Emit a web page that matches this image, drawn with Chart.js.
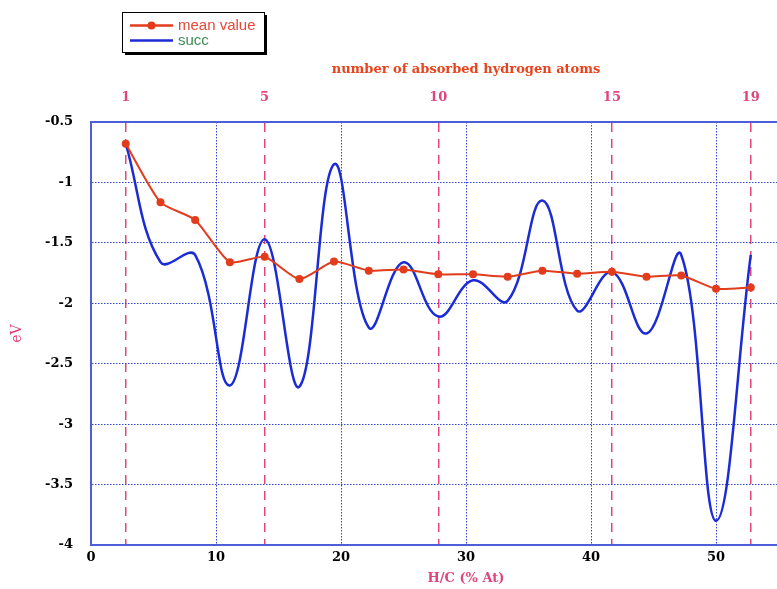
<!DOCTYPE html>
<html>
<head>
<meta charset="utf-8">
<script src="https://cdn.jsdelivr.net/npm/chart.js@4.4.1/dist/chart.umd.min.js"></script>
<style>
  html, body { margin: 0; padding: 0; background: #fff; overflow: hidden; }
  #wrap { position: relative; width: 870px; height: 589px; }
</style>
</head>
<body>
<div id="wrap"><canvas id="chart"></canvas></div>
<script>
// number of absorbed hydrogen atoms and the matching H/C ratio (% At)
const atoms = [1, 2, 3, 4, 5, 6, 7, 8, 9, 10, 11, 12, 13, 14, 15, 16, 17, 18, 19]
const hcPercent = [2.78, 5.56, 8.33, 11.11, 13.89, 16.67, 19.44, 22.22, 25.0, 27.78,
  30.56, 33.33, 36.11, 38.89, 41.67, 44.44, 47.22, 50.0, 52.78]

// energies in eV
const meanValue = [-0.68, -1.165, -1.31, -1.66, -1.615, -1.8, -1.655, -1.73, -1.72, -1.76,
  -1.76, -1.78, -1.73, -1.755, -1.74, -1.78, -1.77, -1.88, -1.87]
const succ = [-0.68, -1.66, -1.6, -2.68, -1.47, -2.69, -0.85, -2.2, -1.66, -2.11,
  -1.81, -1.98, -1.15, -2.06, -1.74, -2.25, -1.6, -3.8, -1.6]

// atoms marked on the top axis with a dashed line
const markedAtoms = [1, 5, 10, 15, 19]

const BLUE_AXIS = "#4d5ed8"
const BLUE_GRID = "#3344cc"
const PINK = "#e0457d"
const tickFont = { family: "DejaVu Serif", size: 13, weight: "bold" }

const toPoints = (ys) => hcPercent.map((x, i) => ({ x, y: ys[i] }))

// framed legend with a drop shadow, top left
const legendBox = {
  id: "legendBox",
  afterDraw(chart) {
    const ctx = chart.ctx
    const x = 122, y = 12, w = 142, h = 40
    const textColors = ["#e6473a", "#3c8a58"]
    ctx.save()
    ctx.fillStyle = "#000"
    ctx.fillRect(x + 3, y + 3, w, h)
    ctx.fillStyle = "#fff"
    ctx.fillRect(x, y, w, h)
    ctx.strokeStyle = "#000"
    ctx.lineWidth = 1
    ctx.strokeRect(x + 0.5, y + 0.5, w, h)
    chart.data.datasets.forEach((ds, i) => {
      const ly = y + 13.5 + i * 15
      ctx.strokeStyle = ds.borderColor
      ctx.lineWidth = 2.5
      ctx.beginPath()
      ctx.moveTo(130, ly)
      ctx.lineTo(173, ly)
      ctx.stroke()
      if (ds.pointRadius) {
        ctx.fillStyle = ds.borderColor
        ctx.beginPath()
        ctx.arc(151.5, ly, 4, 0, Math.PI * 2)
        ctx.fill()
      }
      ctx.fillStyle = textColors[i]
      ctx.font = "15px 'Liberation Sans'"
      ctx.textBaseline = "middle"
      ctx.fillText(ds.label, 178, ly)
    })
    ctx.restore()
  }
}

new Chart(document.getElementById("chart"), {
  type: "line",
  data: {
    datasets: [
      {
        label: "mean value",
        data: toPoints(meanValue),
        borderColor: "#e23c1c",
        backgroundColor: "#e23c1c",
        borderWidth: 2,
        pointRadius: 4,
        pointBorderWidth: 0,
        tension: 0.2,
        order: 0
      },
      {
        label: "succ",
        data: toPoints(succ),
        borderColor: "#1c2cd4",
        backgroundColor: "#1c2cd4",
        borderWidth: 2.5,
        pointRadius: 0,
        tension: 0.4,
        order: 1
      }
    ]
  },
  options: {
    responsive: true,
    maintainAspectRatio: false,
    animation: false,
    layout: { padding: { left: 0, top: 0, right: 29, bottom: 0 } },
    plugins: { legend: { display: false }, tooltip: { enabled: false } },
    scales: {
      x: {
        type: "linear",
        position: "bottom",
        min: 0,
        max: 60,
        afterFit: (s) => { s.height = 44 },
        ticks: { stepSize: 10, color: "#000", font: tickFont, padding: 5 },
        grid: { color: BLUE_GRID, lineWidth: 1, drawTicks: false },
        border: { display: true, color: BLUE_AXIS, width: 2, dash: [1.5, 1.5] },
        title: {
          display: true,
          text: "H/C (% At)",
          color: PINK,
          font: { family: "DejaVu Serif", size: 13, weight: "bold" },
          padding: { top: 0, bottom: 3 }
        }
      },
      x2: {
        type: "linear",
        position: "top",
        min: 0,
        max: 60,
        afterFit: (s) => { s.height = 122 },
        afterBuildTicks: (s) => {
          s.ticks = markedAtoms.map((n) => ({ value: hcPercent[atoms.indexOf(n)] }))
        },
        ticks: {
          color: PINK,
          font: tickFont,
          padding: 17,
          callback: (v, i) => String(markedAtoms[i])
        },
        grid: { color: PINK, lineWidth: 1.5, drawTicks: false },
        border: { display: true, color: BLUE_AXIS, width: 2, dash: [9, 7] },
        title: {
          display: true,
          text: "number of absorbed hydrogen atoms",
          color: "#e8431c",
          font: { family: "DejaVu Serif", size: 13, weight: "bold" },
          padding: { top: 62, bottom: 0 }
        }
      },
      y: {
        type: "linear",
        min: -4,
        max: -0.5,
        afterFit: (s) => { s.width = 91 },
        ticks: {
          stepSize: 0.5,
          color: "#000",
          font: tickFont,
          padding: 18,
          callback: (v) => String(v)
        },
        grid: { color: BLUE_GRID, lineWidth: 1, drawTicks: false },
        border: { display: true, color: BLUE_AXIS, width: 2, dash: [1.5, 1.5] },
        title: {
          display: true,
          text: "eV",
          color: PINK,
          font: { family: "DejaVu Serif", size: 14 },
          padding: { top: 9, bottom: 0 }
        }
      }
    }
  },
  plugins: [legendBox]
})
</script>
</body>
</html>
